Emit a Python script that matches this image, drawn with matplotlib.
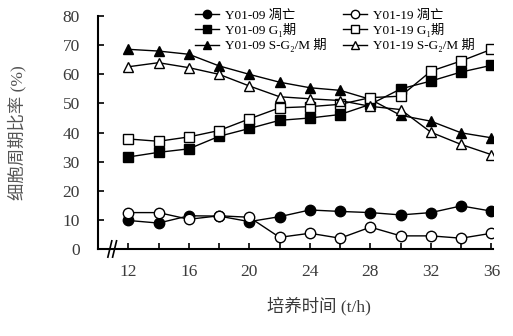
import matplotlib
matplotlib.use("Agg")
import matplotlib.pyplot as plt

FONTS = ["Liberation Serif", "Noto Sans CJK SC", "DejaVu Sans"]
plt.rcParams["font.family"] = FONTS

hours = [12, 14, 16, 18, 20, 22, 24, 26, 28, 30, 32, 34, 36]

y09_apoptosis = [9.8, 8.9, 11.4, 11.3, 9.4, 11.1, 13.4, 12.9, 12.5, 11.7, 12.5, 14.8, 13.0]
y09_g1 = [31.6, 33.2, 34.4, 38.7, 41.4, 44.2, 45.0, 46.2, 49.7, 55.0, 57.7, 60.8, 63.1]
y09_sg2m = [68.6, 68.0, 66.9, 62.9, 60.0, 57.3, 55.4, 54.5, 51.4, 45.9, 43.9, 39.9, 38.2]

y19_apoptosis = [12.5, 12.5, 10.2, 11.4, 10.9, 4.0, 5.4, 3.7, 7.5, 4.5, 4.5, 3.7, 5.4]
y19_g1 = [37.8, 37.0, 38.5, 40.7, 44.7, 48.5, 48.9, 49.7, 52.0, 52.5, 61.1, 64.6, 68.6]
y19_sg2m = [62.6, 64.0, 62.3, 60.0, 56.0, 52.3, 51.6, 51.0, 49.0, 47.9, 40.1, 35.9, 32.4]

series = [
    ("Y01-09 凋亡", y09_apoptosis, "o", "black"),
    ("Y01-09 G₁期", y09_g1, "s", "black"),
    ("Y01-09 S-G₂/M 期", y09_sg2m, "^", "black"),
    ("Y01-19 凋亡", y19_apoptosis, "o", "white"),
    ("Y01-19 G₁期", y19_g1, "s", "white"),
    ("Y01-19 S-G₂/M 期", y19_sg2m, "^", "white"),
]

fig = plt.figure(figsize=(5.13, 3.36), dpi=100)
ax = fig.add_axes([0.191, 0.259, 0.770, 0.693])

for label, vals, marker, face in series:
    ax.plot(hours, vals, color="black", lw=1.0, marker=marker, markersize=7.5,
            markerfacecolor=face, markeredgecolor="black", markeredgewidth=1.0,
            label=label)

ax.set_xlim(10.0, 36.1)
ax.set_ylim(0, 80)
ax.set_xticks(range(12, 37, 4))
ax.set_xticks(range(12, 37, 2), minor=True)
ax.set_yticks(range(0, 81, 10))
ax.tick_params(axis="both", which="both", direction="in", length=4, width=1.2,
               labelsize=12.5, labelcolor="#3a3a3a")
ax.tick_params(axis="x", pad=11)
ax.tick_params(axis="y", pad=13)
for side in ("top", "right"):
    ax.spines[side].set_visible(False)
for side in ("left", "bottom"):
    ax.spines[side].set_linewidth(1.5)

# axis break mark
for dx in (0.0, 0.012):
    ax.plot([0.025 + dx, 0.035 + dx], [-0.035, 0.035], transform=ax.transAxes,
            color="black", lw=1.2, clip_on=False)

ax.set_ylabel("细胞周期比率 (%)", fontsize=12.5, color="#555555")
ax.yaxis.set_label_coords(-0.18, 0.5)
ax.set_xlabel("培养时间 (t/h)", fontsize=12.5, color="#3a3a3a")
ax.xaxis.set_label_coords(0.56, -0.205)

ax.legend(loc="upper center", bbox_to_anchor=(0.6, 1.08), ncol=2, frameon=False,
          fontsize=9.5, handlelength=1.8, handletextpad=0.5, columnspacing=1.2,
          labelspacing=0.1, markerscale=0.8)

fig.savefig("out.png", dpi=100)
